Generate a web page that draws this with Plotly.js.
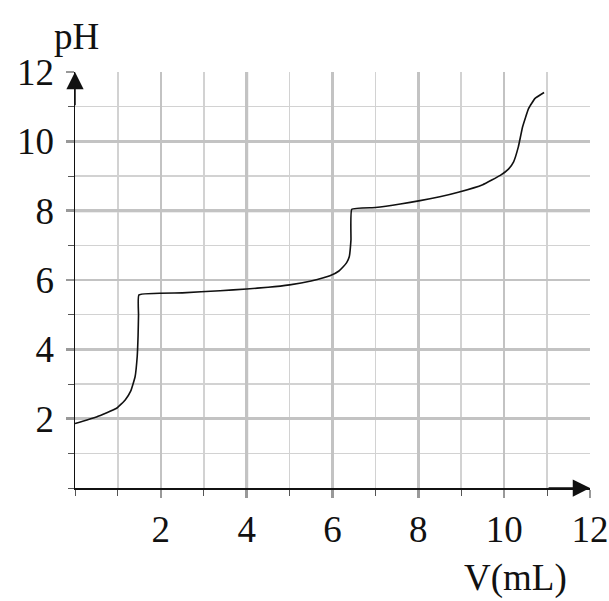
<!DOCTYPE html>
<html>
<head>
<meta charset="utf-8">
<script src="https://cdn.plot.ly/plotly-3.0.1.min.js"></script>
<style>html,body{margin:0;padding:0;background:#fff;}#chart{width:609px;height:601px;}</style>
</head>
<body>
<div id="chart"></div>
<script>
const volume = [0, 0.5, 0.97, 1.17, 1.30, 1.40, 1.45, 1.47, 1.48, 1.49, 2.5, 3.38, 4.0, 4.5, 5.0, 5.5, 5.94, 6.15, 6.25, 6.33, 6.39, 6.43, 6.45, 7.0, 7.58, 8.04, 8.5, 8.93, 9.5, 9.91, 10.1, 10.22, 10.33, 10.43, 10.57, 10.72, 10.93];
const pH = [1.86, 2.05, 2.30, 2.54, 2.80, 3.21, 3.80, 4.40, 5.00, 5.57, 5.63, 5.69, 5.74, 5.79, 5.86, 5.97, 6.12, 6.26, 6.38, 6.50, 6.67, 7.15, 8.04, 8.09, 8.19, 8.29, 8.40, 8.53, 8.75, 9.02, 9.20, 9.41, 9.84, 10.42, 10.95, 11.24, 11.41];
const tickVals = [2, 4, 6, 8, 10, 12];
const tickText = ['2', '4', '6', '8', '10', '12'];

const font = {family: 'Liberation Serif, DejaVu Serif, serif', size: 37, color: '#111'};

const trace = {
  x: volume, y: pH, type: 'scatter', mode: 'lines',
  line: {color: '#111', width: 1.6, shape: 'spline', smoothing: 0.35},
  hoverinfo: 'skip'
};

const axisCommon = {
  range: [0, 12], showgrid: true, gridcolor: '#c3c3c3', gridwidth: 2.5,
  zeroline: false, showline: true, linecolor: '#111', linewidth: 1.5,
  ticks: 'outside', ticklen: 8, tickwidth: 2.5, tickcolor: '#999',
  minor: {dtick: 1, showgrid: true, gridcolor: '#d2d2d2', gridwidth: 1.6, ticks: 'outside', ticklen: 6, tickcolor: '#555', tickwidth: 1},
  tickvals: tickVals, ticktext: tickText, tickfont: font, fixedrange: true
};

const layout = {
  width: 609, height: 601,
  margin: {l: 75, r: 19, t: 72, b: 113},
  paper_bgcolor: '#fff', plot_bgcolor: '#fff',
  showlegend: false,
  font: font,
  xaxis: Object.assign({}, axisCommon, {ticklabelstandoff: 0}),
  yaxis: Object.assign({}, axisCommon, {ticklabelstandoff: 4}),
  shapes: [
    {type: 'line', xref: 'x', yref: 'paper', x0: 4, x1: 4, y0: 0, y1: 1, line: {color: '#b2b2b2', width: 3}, layer: 'below'},
    {type: 'line', xref: 'paper', yref: 'y', x0: 0, x1: 1, y0: 8, y1: 8, line: {color: '#b2b2b2', width: 3}, layer: 'below'}
  ],
  annotations: [
    {x: 12, y: 0, ax: 11.0, ay: 0, xref: 'x', yref: 'y', axref: 'x', ayref: 'y', text: '', showarrow: true, arrowhead: 2, arrowsize: 2.3, arrowwidth: 1.5, arrowcolor: '#111', standoff: 0},
    {x: 0, y: 12, ax: 0, ay: 11.0, xref: 'x', yref: 'y', axref: 'x', ayref: 'y', text: '', showarrow: true, arrowhead: 2, arrowsize: 2.3, arrowwidth: 1.5, arrowcolor: '#111', standoff: 0},
    {text: 'pH', showarrow: false, font: font, xref: 'paper', yref: 'paper', xanchor: 'center', yanchor: 'middle'},
    {text: 'V(mL)', showarrow: false, font: font, xref: 'paper', yref: 'paper', xanchor: 'center', yanchor: 'middle'}
  ]
};
const pw = 609 - 75 - 19, ph = 601 - 72 - 113;
layout.annotations[2].x = (76 - 75) / pw;
layout.annotations[2].y = (488 - 36) / ph;
layout.annotations[3].x = (515 - 75) / pw;
layout.annotations[3].y = (488 - 578) / ph;

Plotly.newPlot('chart', [trace], layout, {displayModeBar: false, staticPlot: true});
</script>
</body>
</html>
